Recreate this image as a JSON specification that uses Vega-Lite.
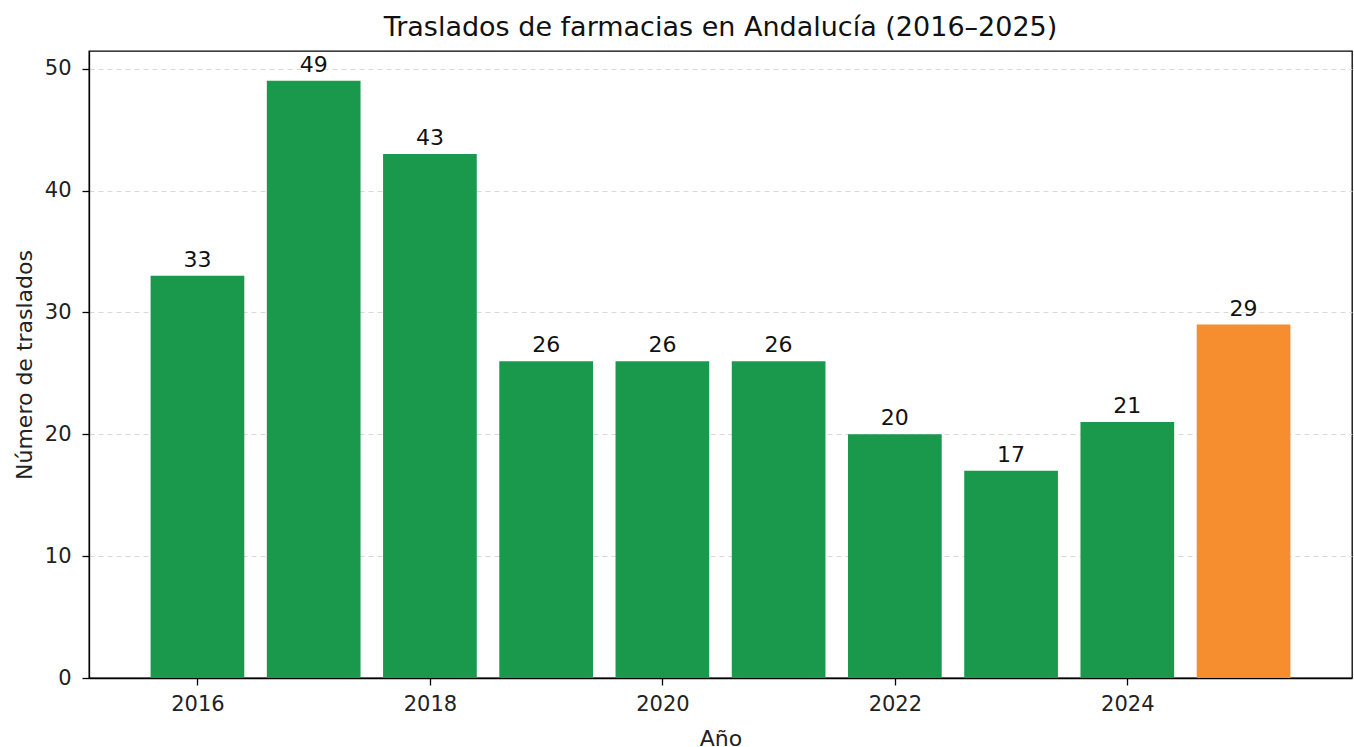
{
  "$schema": "https://vega.github.io/schema/vega-lite/v6.json",
  "width": 1263,
  "height": 627,
  "autosize": {"type": "none"},
  "padding": {"left": 89, "top": 51, "right": 2, "bottom": 69},
  "background": "white",
  "config": {
    "font": "DejaVu Sans",
    "view": {"stroke": "#000000", "strokeWidth": 1.3},
    "axis": {"labelFont": "DejaVu Sans", "titleFont": "DejaVu Sans", "labelFontSize": 21, "titleFontSize": 22, "labelColor": "#222", "titleColor": "#222", "titleFontWeight": "normal", "domainColor": "#000", "tickColor": "#000", "tickSize": 7, "domainWidth": 1.3, "tickWidth": 1.3}
  },
  "title": {"text": "Traslados de farmacias en Andalucía (2016–2025)", "fontSize": 27, "fontWeight": "normal", "font": "DejaVu Sans", "color": "#111", "offset": 9, "anchor": "middle"},
  "data": {"values": [
    {"anio": 2016, "traslados": 33},
    {"anio": 2017, "traslados": 49},
    {"anio": 2018, "traslados": 43},
    {"anio": 2019, "traslados": 26},
    {"anio": 2020, "traslados": 26},
    {"anio": 2021, "traslados": 26},
    {"anio": 2022, "traslados": 20},
    {"anio": 2023, "traslados": 17},
    {"anio": 2024, "traslados": 21},
    {"anio": 2025, "traslados": 29}
  ]},
  "encoding": {
    "x": {"field": "anio", "type": "quantitative", "scale": {"domain": [2015.11, 2025.89], "nice": false, "zero": false},
      "axis": {"values": [2016, 2018, 2020, 2022, 2024], "format": "d", "grid": false, "title": "Año", "labelPadding": 8, "titleY": 67, "titleBaseline": "alphabetic"}},
    "y": {"field": "traslados", "type": "quantitative", "scale": {"domain": [0, 51.45], "nice": false},
      "axis": {"values": [0, 10, 20, 30, 40, 50], "grid": true, "gridDash": [5, 4], "gridColor": "#d8d8d8", "gridWidth": 1, "title": "Número de traslados", "labelPadding": 11, "titleX": -58, "titleBaseline": "alphabetic"}}
  },
  "layer": [
    {"mark": {"type": "bar", "width": 93.7},
     "encoding": {"color": {"condition": {"test": "datum.anio === 2025", "value": "#f68e30"}, "value": "#1a984b"}}},
    {"mark": {"type": "text", "baseline": "alphabetic", "dy": -9, "fontSize": 22, "color": "#111", "font": "DejaVu Sans"},
     "encoding": {"text": {"field": "traslados", "type": "quantitative"}}}
  ]
}
